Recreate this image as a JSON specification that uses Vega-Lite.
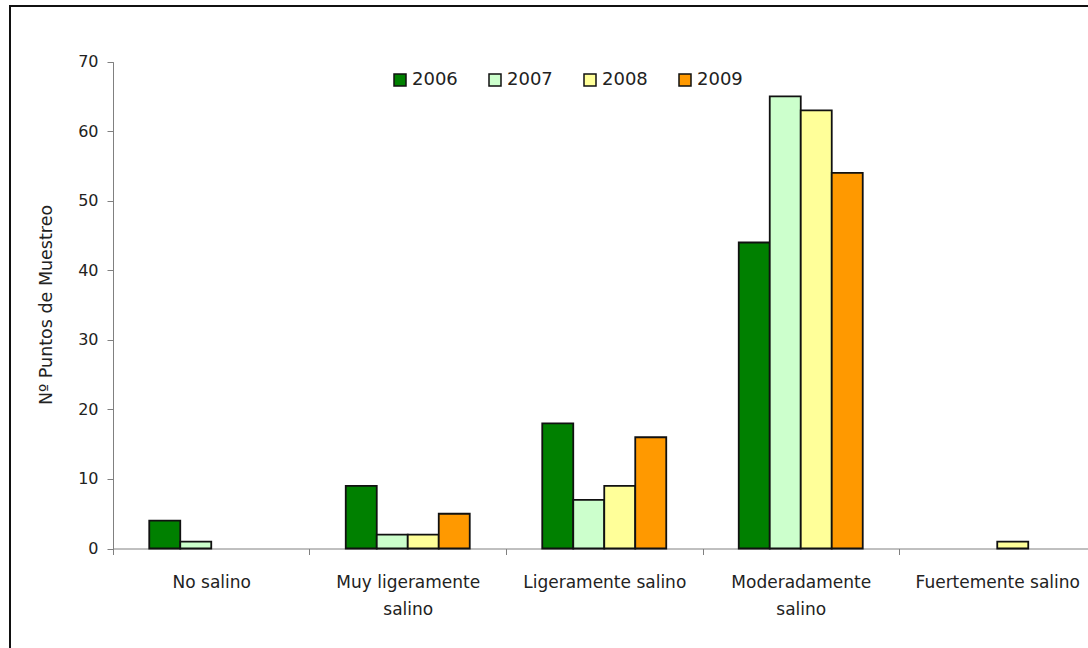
{
  "$schema": "https://vega.github.io/schema/vega-lite/v6.json",
  "autosize": {"type": "none"},
  "padding": {"left": 10, "top": 6, "right": -40, "bottom": -40},
  "width": 1118,
  "height": 682,
  "data": {
    "values": [
      {"clase": "No salino", "anio": "2006", "puntos": 4},
      {"clase": "No salino", "anio": "2007", "puntos": 1},
      {"clase": "No salino", "anio": "2008", "puntos": 0},
      {"clase": "No salino", "anio": "2009", "puntos": 0},
      {"clase": "Muy ligeramente salino", "anio": "2006", "puntos": 9},
      {"clase": "Muy ligeramente salino", "anio": "2007", "puntos": 2},
      {"clase": "Muy ligeramente salino", "anio": "2008", "puntos": 2},
      {"clase": "Muy ligeramente salino", "anio": "2009", "puntos": 5},
      {"clase": "Ligeramente salino", "anio": "2006", "puntos": 18},
      {"clase": "Ligeramente salino", "anio": "2007", "puntos": 7},
      {"clase": "Ligeramente salino", "anio": "2008", "puntos": 9},
      {"clase": "Ligeramente salino", "anio": "2009", "puntos": 16},
      {"clase": "Moderadamente salino", "anio": "2006", "puntos": 44},
      {"clase": "Moderadamente salino", "anio": "2007", "puntos": 65},
      {"clase": "Moderadamente salino", "anio": "2008", "puntos": 63},
      {"clase": "Moderadamente salino", "anio": "2009", "puntos": 54},
      {"clase": "Fuertemente salino", "anio": "2006", "puntos": 0},
      {"clase": "Fuertemente salino", "anio": "2007", "puntos": 0},
      {"clase": "Fuertemente salino", "anio": "2008", "puntos": 1},
      {"clase": "Fuertemente salino", "anio": "2009", "puntos": 0}
    ]
  },
  "mark": {"type": "bar", "stroke": "#111", "strokeWidth": 1.8},
  "encoding": {
    "x": {
      "field": "clase",
      "type": "nominal",
      "sort": ["No salino", "Muy ligeramente salino", "Ligeramente salino", "Moderadamente salino", "Fuertemente salino"],
      "scale": {"range": [103, 1085.5], "paddingInner": 0.369, "paddingOuter": 0.1845},
      "axis": {
        "title": null,
        "orient": "bottom",
        "offset": -139.5,
        "labelAngle": 0,
        "tickSize": 6,
        "tickOffset": -98.25,
        "labelOffset": 98.25,
        "tickColor": "#808080",
        "domainColor": "#808080",
        "labelPadding": 20,
        "labelFontSize": 17,
        "labelLineHeight": 27,
        "labelLimit": 400,
        "labelColor": "#222",
        "labelExpr": "datum.label == 'Muy ligeramente salino' ? ['Muy ligeramente', 'salino'] : datum.label == 'Moderadamente salino' ? ['Moderadamente', 'salino'] : datum.label"
      }
    },
    "xOffset": {
      "field": "anio",
      "type": "nominal",
      "scale": {"paddingInner": 0, "paddingOuter": 0}
    },
    "y": {
      "field": "puntos",
      "type": "quantitative",
      "scale": {"domain": [0, 70], "range": [542.5, 55.7], "nice": false},
      "axis": {
        "orient": "left",
        "offset": -103,
        "values": [0, 10, 20, 30, 40, 50, 60, 70],
        "grid": false,
        "tickSize": 6,
        "tickColor": "#808080",
        "domainColor": "#808080",
        "labelPadding": 9,
        "labelFontSize": 16,
        "labelColor": "#222",
        "title": "Nº Puntos de Muestreo",
        "titleFontSize": 17.5,
        "titleFontWeight": "normal",
        "titleColor": "#222",
        "titleAngle": 270,
        "titleAlign": "center",
        "titleBaseline": "middle",
        "titleX": -66.5,
        "titleY": 298.5
      }
    },
    "color": {
      "field": "anio",
      "type": "nominal",
      "scale": {"domain": ["2006", "2007", "2008", "2009"], "range": ["#008000", "#CCFFCC", "#FFFF99", "#FF9900"]},
      "legend": {
        "orient": "none",
        "legendX": 381,
        "legendY": 65,
        "direction": "horizontal",
        "title": null,
        "padding": 0,
        "symbolType": "square",
        "symbolSize": 144,
        "symbolStrokeColor": "#111",
        "symbolStrokeWidth": 1.5,
        "symbolOpacity": 1,
        "labelFontSize": 18,
        "labelColor": "#222",
        "labelOffset": 3,
        "columnPadding": 28
      }
    },
    "strokeOpacity": {
      "condition": {"test": "datum.puntos == 0", "value": 0},
      "value": 1
    }
  },
  "config": {
    "font": "DejaVu Sans",
    "view": {"stroke": "#111", "strokeWidth": 2}
  }
}
